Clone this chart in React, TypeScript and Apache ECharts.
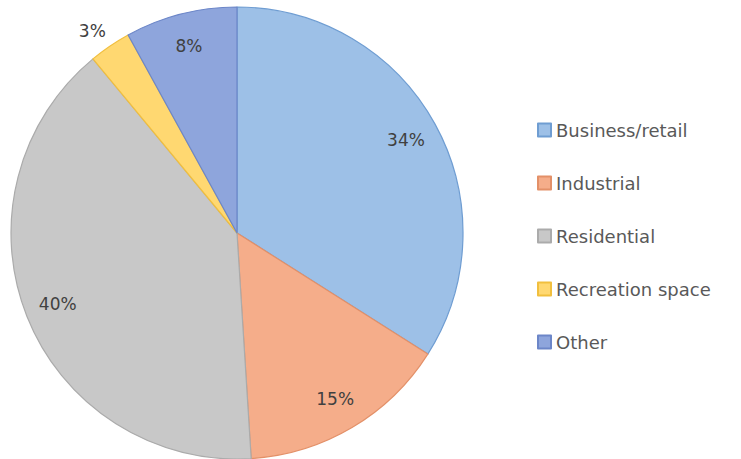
import React, { useEffect, useRef } from "react";
import * as echarts from "echarts";

const categories = ["Business/retail", "Industrial", "Residential", "Recreation space", "Other"];
const values = [34, 15, 40, 3, 8];
const fills = ["#9DC0E7", "#F5AD8A", "#C8C8C8", "#FFD871", "#8EA5DC"];
const borders = ["#6F9DD2", "#E39068", "#ABABAB", "#F1BF3E", "#6C86C8"];
const outsideLabels = ["Recreation space"];

export default function App() {
  const ref = useRef<HTMLDivElement>(null);
  useEffect(() => {
    if (!ref.current) return;
    const chart = echarts.init(ref.current, undefined, { renderer: "svg" });
    const R = 226;
    const center = [237, 233];
    const font = "DejaVu Sans";
    chart.setOption({
      animation: false,
      backgroundColor: "#ffffff",
      legend: {
        orient: "vertical",
        left: 532,
        top: 116,
        itemWidth: 13,
        itemHeight: 13,
        itemGap: 35,
        icon: "rect",
        data: categories,
        textStyle: { fontFamily: font, fontSize: 18, color: "#595959" },
      },
      series: [
        {
          type: "pie",
          center,
          radius: [0, R],
          startAngle: 90,
          clockwise: true,
          silent: true,
          label: { show: false },
          labelLine: { show: false },
          data: categories.map((name, i) => ({
            name,
            value: values[i],
            itemStyle: { color: fills[i], borderColor: borders[i], borderWidth: 1.2 },
          })),
        },
        {
          type: "pie",
          center,
          radius: [R * 0.68, R],
          startAngle: 90,
          clockwise: true,
          silent: true,
          legendHoverLink: false,
          itemStyle: { color: "rgba(0,0,0,0)", borderWidth: 0 },
          label: {
            show: true,
            position: "inside",
            formatter: (p: any) => `${p.value}%`,
            fontFamily: font,
            fontSize: 17,
            color: "#404040",
          },
          labelLine: { show: false },
          data: categories.map((name, i) => {
            const outside = outsideLabels.includes(name);
            return {
              name: name + " ",
              value: values[i],
              label: outside ? { position: "outside", distanceToLabelLine: -6 } : undefined,
              labelLine: outside ? { show: false, length: 18, length2: 0 } : undefined,
            };
          }),
        },
      ],
    });
    return () => chart.dispose();
  }, []);
  return (
    <div
      ref={ref}
      style={{ position: "fixed", left: 0, top: 0, width: 741, height: 459, background: "#fff" }}
    />
  );
}
